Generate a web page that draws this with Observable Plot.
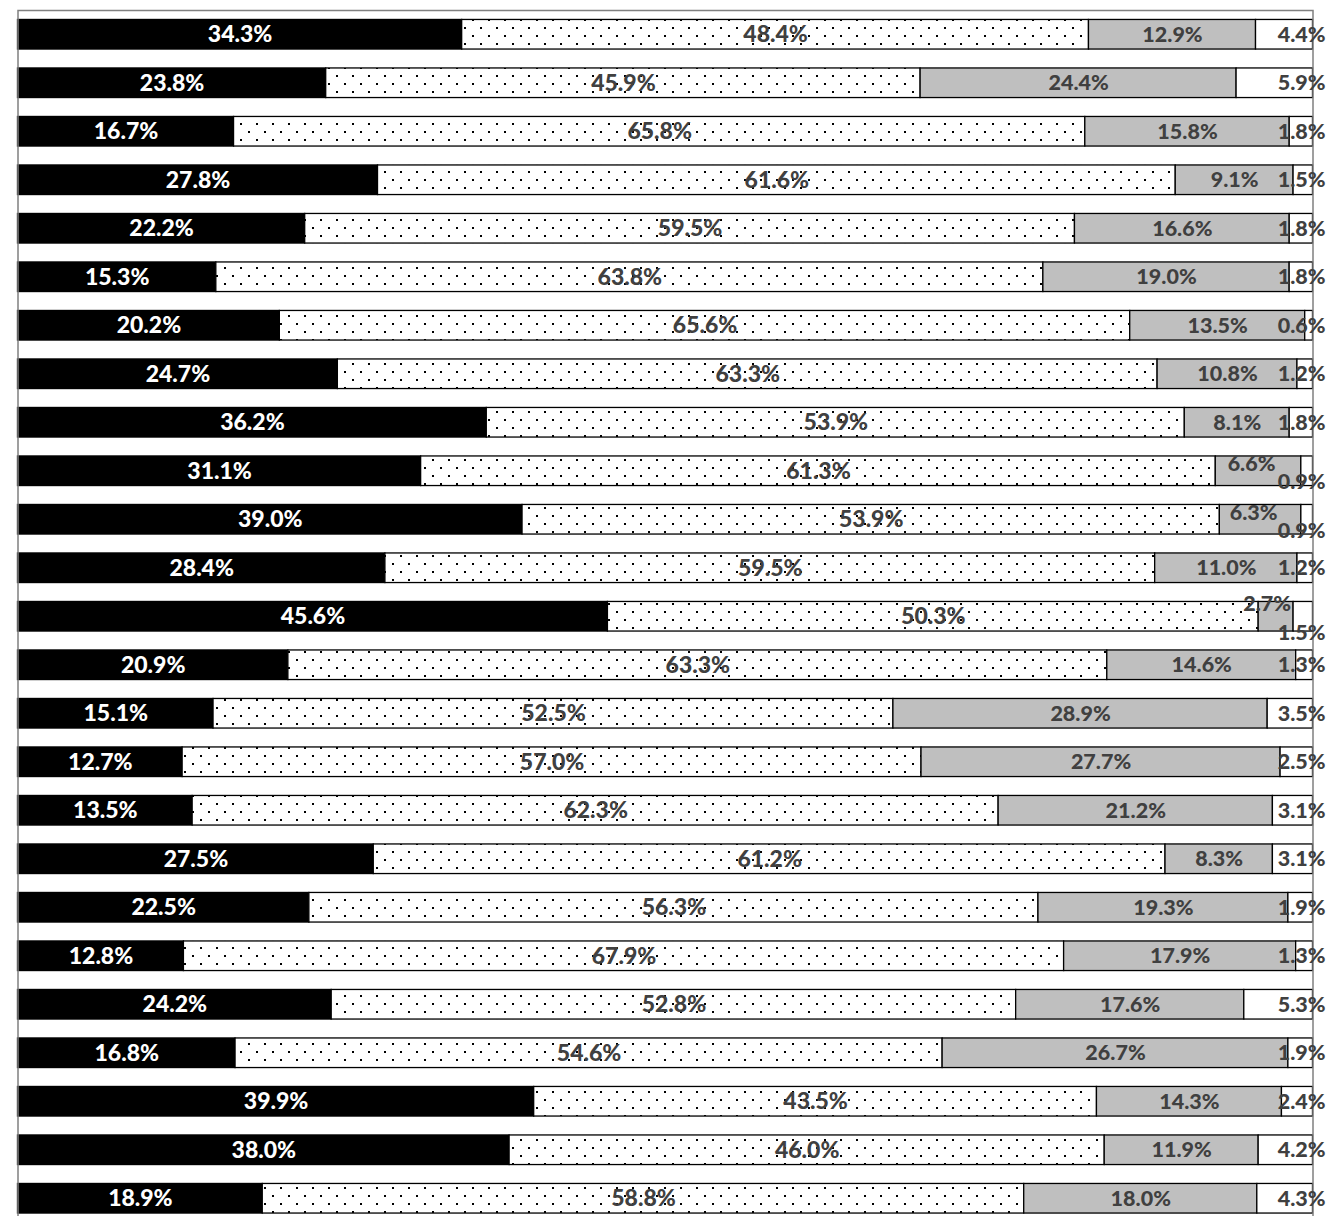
<!DOCTYPE html>
<html><head><meta charset="utf-8">
<script src="https://cdn.jsdelivr.net/npm/d3@7"></script>
<script src="https://cdn.jsdelivr.net/npm/@observablehq/plot@0.6"></script>
<style>body{margin:0;background:#fff;overflow:hidden}</style>
</head><body><div id="chart"></div>
<script>
const rows = ["1","2","3","4","5","6","7","8","9","10","11","12","13","14","15","16","17","18","19","20","21","22","23","24","25"];
const seriesNames = ["S1","S2","S3","S4"];
const s1 = [34.3,23.8,16.7,27.8,22.2,15.3,20.2,24.7,36.2,31.1,39.0,28.4,45.6,20.9,15.1,12.7,13.5,27.5,22.5,12.8,24.2,16.8,39.9,38.0,18.9];
const s2 = [48.4,45.9,65.8,61.6,59.5,63.8,65.6,63.3,53.9,61.3,53.9,59.5,50.3,63.3,52.5,57.0,62.3,61.2,56.3,67.9,52.8,54.6,43.5,46.0,58.8];
const s3 = [12.9,24.4,15.8,9.1,16.6,19.0,13.5,10.8,8.1,6.6,6.3,11.0,2.7,14.6,28.9,27.7,21.2,8.3,19.3,17.9,17.6,26.7,14.3,11.9,18.0];
const s4 = [4.4,5.9,1.8,1.5,1.8,1.8,0.6,1.2,1.8,0.9,0.9,1.2,1.5,1.3,3.5,2.5,3.1,3.1,1.9,1.3,5.3,1.9,2.4,4.2,4.3];

const data = [];
rows.forEach((r, i) => {
  const vals = [s1[i], s2[i], s3[i], s4[i]];
  const tot = d3.sum(vals);
  let c = 0;
  vals.forEach((v, k) => {
    data.push({row: r, series: seriesNames[k], value: v, x1: c / tot, x2: (c + v) / tot});
    c += v;
  });
});

const fills = {S1: "#000000", S2: "url(#dots)", S3: "#bfbfbf", S4: "#ffffff"};
// label nudges for crowded small segments [dx, dy]
const nudges = {
  "10|S3": [-7, -7], "10|S4": [0, 11], "11|S3": [-7, -7], "11|S4": [0, 11],
  "13|S3": [-9, -13], "13|S4": [0, 16]
};
const nudgeOf = d => nudges[d.row + "|" + d.series] || [0, 0];
const groups = d3.groups(data, d => d.series + "," + nudgeOf(d).join(","));

const textMarks = groups.map(([key, arr]) => {
  const [series, dxs, dys] = key.split(",");
  const dx = +dxs, dy = +dys;
  const last = series === "S4";
  return Plot.text(arr, {
    x: last ? "x2" : d => (d.x1 + d.x2) / 2,
    y: "row",
    text: d => d.value.toFixed(1) + "%",
    fill: series === "S1" ? "#ffffff" : "#404040",
    textAnchor: last ? "end" : "middle",
    dx: last ? 12.5 + dx : dx,
    dy,
    fontFamily: "Lato",
    fontWeight: 900,
    fontSize: (series === "S3" || last) ? 21.5 : 23
  });
});

const chart = Plot.plot({
  width: 1328,
  height: 1216,
  marginTop: 10,
  marginBottom: 0,
  marginLeft: 17.5,
  marginRight: 15.5,
  x: {domain: [0, 1], axis: null},
  y: {domain: rows, axis: null, range: [10, 1222.5], round: false, paddingInner: 0.39, paddingOuter: 0.195},
  color: {type: "identity"},
  marks: [
    Plot.barX(data, {x1: "x1", x2: "x2", y: "row", fill: d => fills[d.series], stroke: "#000", strokeWidth: 1.3}),
    Plot.frame({stroke: "#808080", strokeWidth: 1.5}),
    ...textMarks
  ]
});

const defs = document.createElementNS("http://www.w3.org/2000/svg", "defs");
defs.innerHTML = '<pattern id="dots" patternUnits="userSpaceOnUse" width="16" height="16">' +
  '<rect width="16" height="16" fill="#fff"/>' +
  '<rect x="8" y="3" width="2" height="2" fill="#000"/>' +
  '<rect x="0" y="11" width="2" height="2" fill="#000"/></pattern>';
chart.insertBefore(defs, chart.firstChild);

// frame: open at the bottom (chart continues below the picture)
const fr = chart.querySelector('[aria-label="frame"]');
const fRect = fr && (fr.tagName === "rect" ? fr : fr.querySelector("rect"));
if (fRect) {
  const w = +fRect.getAttribute("width"), h = +fRect.getAttribute("height");
  fRect.setAttribute("stroke-dasharray", `${w + h} ${w} ${h}`);
}
document.getElementById("chart").appendChild(chart);
</script>
</body></html>
